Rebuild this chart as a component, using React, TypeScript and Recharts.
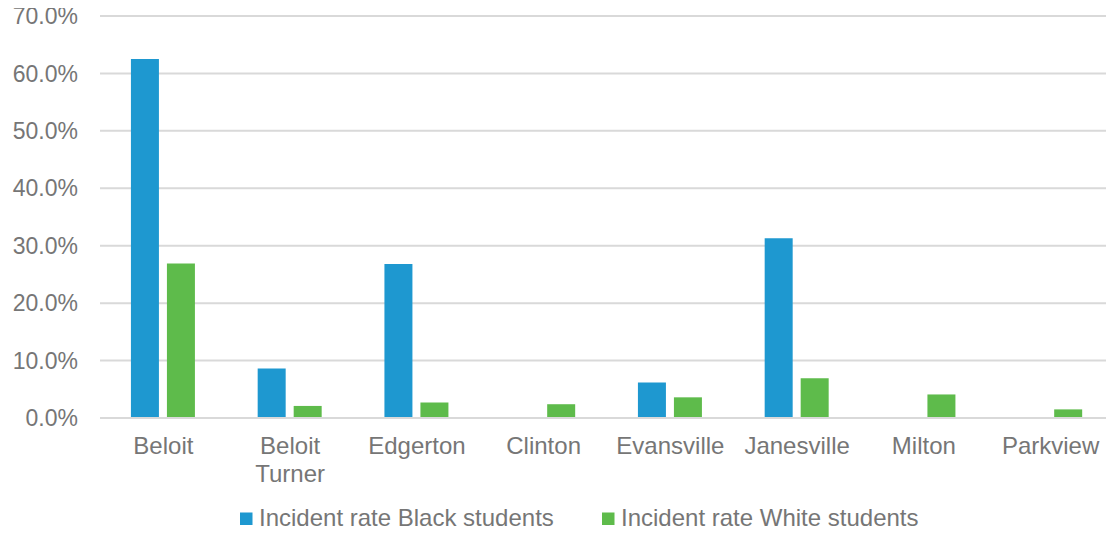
import { BarChart, Bar, XAxis, YAxis, CartesianGrid, Customized } from "recharts";

const districts = ["Beloit", "Beloit Turner", "Edgerton", "Clinton", "Evansville", "Janesville", "Milton", "Parkview"];
const blackRate = [62.5, 8.6, 26.8, 0, 6.2, 31.3, 0, 0];
const whiteRate = [26.9, 2.1, 2.7, 2.4, 3.6, 6.9, 4.1, 1.5];
const yTicks = [0, 10, 20, 30, 40, 50, 60, 70];
const seriesNames = ["Incident rate Black students", "Incident rate White students"];

const BLUE = "#1E98D0";
const GREEN = "#5EBB4B";
const GRID = "#D9D9D9";
const TEXT = "#767676";
const FONT = "'Liberation Sans', Arial, sans-serif";

const data = districts.map((name, i) => ({
  name,
  black: blackRate[i],
  white: whiteRate[i],
}));

function DistrictTick({ x, y, payload }: any) {
  const lines = String(payload.value).split(" ");
  return (
    <text x={x} y={y} textAnchor="middle" fill={TEXT} fontSize={24} fontFamily={FONT}>
      {lines.map((l, i) => (
        <tspan key={i} x={x} dy={i === 0 ? 28 : 27.5}>{l}</tspan>
      ))}
    </text>
  );
}

// legend drawn in the svg, below the axis labels
// (kept a few px higher than the original: the bottom strip of the page gets cut off)
function SvgLegend() {
  const items = [
    { label: seriesNames[0], color: BLUE, x: 240 },
    { label: seriesNames[1], color: GREEN, x: 602 },
  ];
  return (
    <g>
      {items.map((it) => (
        <g key={it.label}>
          <rect x={it.x} y={512.5} width={12.5} height={12.5} fill={it.color} />
          <text x={it.x + 19} y={526} fill={TEXT} fontSize={24} fontFamily={FONT}>{it.label}</text>
        </g>
      ))}
    </g>
  );
}

export default function App() {
  return (
    <div style={{ margin: -8, width: 1114, height: 537, background: "#fff" }}>
      <BarChart
        width={1114}
        height={537}
        data={data}
        margin={{ top: 16, right: 0, left: 0, bottom: 0 }}
        barCategoryGap="24.4%"
        barGap={8}
      >
        <CartesianGrid vertical={false} stroke={GRID} strokeWidth={2} />
        <XAxis
          dataKey="name"
          axisLine={{ stroke: GRID, strokeWidth: 2 }}
          tickLine={false}
          tick={<DistrictTick />}
          interval={0}
          height={119}
        />
        <YAxis
          domain={[0, 70]}
          ticks={yTicks}
          width={100}
          axisLine={false}
          tickLine={false}
          tickSize={0}
          tickMargin={22}
          tick={{ fill: TEXT, fontSize: 23, fontFamily: FONT }}
          tickFormatter={(v: number) => `${v.toFixed(1)}%`}
        />
        <Bar dataKey="black" name={seriesNames[0]} fill={BLUE} isAnimationActive={false} />
        <Bar dataKey="white" name={seriesNames[1]} fill={GREEN} isAnimationActive={false} />
        <Customized component={<SvgLegend />} />
      </BarChart>
    </div>
  );
}
